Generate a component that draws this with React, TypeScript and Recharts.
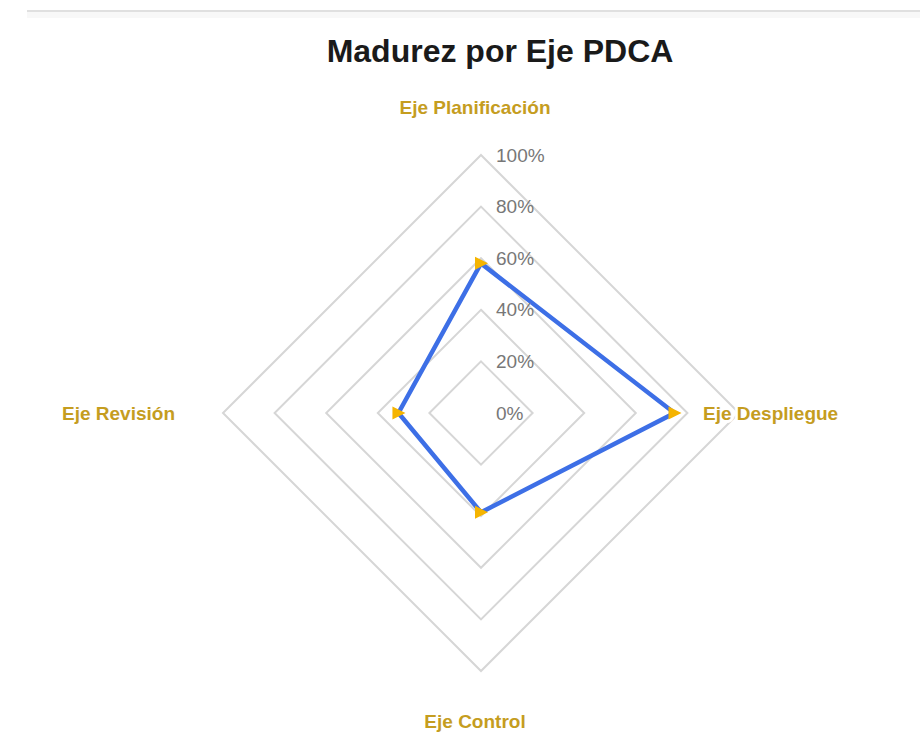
import { RadarChart, Radar, PolarGrid, PolarAngleAxis, PolarRadiusAxis } from 'recharts'

const ejes = ['Eje Planificación', 'Eje Despliegue', 'Eje Control', 'Eje Revisión']
const madurez = [58, 75, 38.5, 32]
const radiusTicks = [0, 20, 40, 60, 80, 100]

const datos = ejes.map((eje, i) => ({ eje, valor: madurez[i] }))

// desplazamientos de las etiquetas de cada eje (respecto al punto que da recharts)
const labelPos: Record<string, { dx: number; dy: number; anchor: string }> = {
  'Eje Planificación': { dx: -6, dy: -40, anchor: 'middle' },
  'Eje Despliegue': { dx: -44, dy: 0, anchor: 'start' },
  'Eje Control': { dx: -6, dy: 42, anchor: 'middle' },
  'Eje Revisión': { dx: -40, dy: 0, anchor: 'end' },
}

const AngleTick = (props: any) => {
  const { x, y, payload } = props
  const pos = labelPos[payload.value] || { dx: 0, dy: 0, anchor: 'middle' }
  return (
    <text
      x={x + pos.dx}
      y={y + pos.dy}
      textAnchor={pos.anchor}
      dominantBaseline="central"
      fill="#c59d1f"
      stroke="#ffffff"
      strokeWidth={6}
      paintOrder="stroke"
      fontSize={19}
      fontWeight="bold"
      fontFamily="'Liberation Sans', Arial, sans-serif"
    >
      {payload.value}
    </text>
  )
}

const RadiusTick = (props: any) => {
  const { x, y, payload } = props
  return (
    <text
      x={x + 15}
      y={y}
      textAnchor="start"
      dominantBaseline="central"
      fill="#777777"
      fontSize={19}
      fontFamily="'Liberation Sans', Arial, sans-serif"
    >
      {`${payload.value}%`}
    </text>
  )
}

const Triangulo = (props: any) => {
  const { cx, cy, index } = props
  return (
    <path
      key={index}
      d={`M${cx - 6},${cy - 6.5} L${cx + 7},${cy} L${cx - 6},${cy + 6.5} Z`}
      fill="#f5b400"
    />
  )
}

export default function App() {
  return (
    <div style={{ position: 'absolute', left: 0, top: 0, width: 920, height: 735, background: '#fff' }}>
      <div style={{ position: 'absolute', left: 27, right: 0, top: 10, height: 2, background: '#e0e0e0' }} />
      <div style={{ position: 'absolute', left: 27, right: 0, top: 12, height: 6, background: '#f8f8f8' }} />
      <div
        style={{
          position: 'absolute',
          left: 300,
          width: 400,
          top: 35,
          textAlign: 'center',
          fontFamily: "'Liberation Sans', Arial, sans-serif",
          fontWeight: 'bold',
          fontSize: 32,
          lineHeight: '32px',
          color: '#1a1a1a',
        }}
      >
        Madurez por Eje PDCA
      </div>
      <RadarChart
        width={920}
        height={735}
        data={datos}
        cx={481}
        cy={413}
        outerRadius={258}
        margin={{ top: 0, right: 0, bottom: 0, left: 0 }}
        style={{ position: 'absolute', left: 0, top: 0 }}
      >
        <PolarGrid gridType="polygon" radialLines={false} stroke="#d6d6d6" strokeWidth={2} />
        <PolarAngleAxis dataKey="eje" tick={<AngleTick />} axisLine={false} tickLine={false} />
        <PolarRadiusAxis
          angle={90}
          domain={[0, 100]}
          ticks={radiusTicks as any}
          tickCount={6}
          tick={<RadiusTick />}
          axisLine={false}
          tickLine={false}
        />
        <Radar
          dataKey="valor"
          stroke="#3d6fe6"
          strokeWidth={4.5}
          fill="none"
          fillOpacity={0}
          dot={<Triangulo />}
          isAnimationActive={false}
        />
      </RadarChart>
    </div>
  )
}
